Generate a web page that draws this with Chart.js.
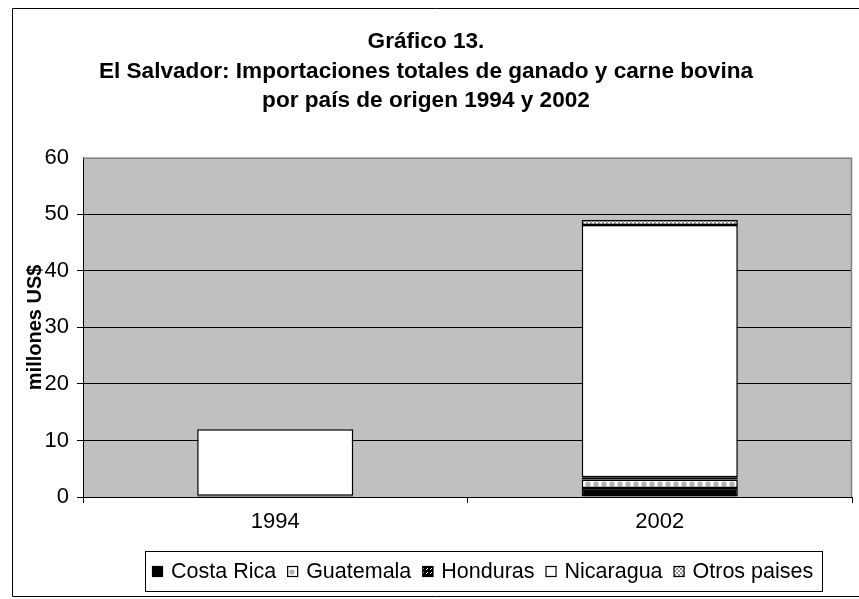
<!DOCTYPE html>
<html><head><meta charset="utf-8">
<script src="https://cdn.jsdelivr.net/npm/chart.js@4"></script>
<style>html,body{margin:0;padding:0;background:#fff}#w{width:859px;height:599px}</style>
</head><body><div id="w"><canvas id="c"></canvas></div>
<script>
const categories = ['1994', '2002'];
const costaRica = [0.2, 1.6];
const guatemala = [null, 1.5];
const honduras = [null, 0.4];
const nicaragua = [11.8, 44.6];
const otros = [null, 0.9];
const seriesNames = ['Costa Rica', 'Guatemala', 'Honduras', 'Nicaragua', 'Otros paises'];
const yTicks = [0, 10, 20, 30, 40, 50, 60];
const titleLines = ['Gráfico 13.', 'El Salvador: Importaciones totales de ganado y carne bovina', 'por país de origen 1994 y 2002'];
const yTitle = 'millones US$';

function mkPattern(kind) {
  const c = document.createElement('canvas');
  const s = kind === 'dots' ? 8 : 4;
  c.width = s; c.height = s;
  const g = c.getContext('2d');
  g.fillStyle = '#fff'; g.fillRect(0, 0, s, s);
  if (kind === 'dots') {
    g.fillStyle = '#b0b0b0';
    g.beginPath(); g.arc(4, 4, 2.6, 0, Math.PI * 2); g.fill();
  } else if (kind === 'checker') {
    g.fillStyle = '#909090';
    g.fillRect(0, 0, 2, 2); g.fillRect(2, 2, 2, 2);
  } else if (kind === 'diag') {
    g.fillStyle = '#000';
    g.fillRect(0, 0, 4, 4);
    g.fillStyle = '#fff';
    g.fillRect(3, 0, 1, 1); g.fillRect(2, 1, 1, 1);
  }
  return document.createElement('canvas').getContext('2d').createPattern(c, 'repeat');
}
const fills = ['#000000', mkPattern('dots'), mkPattern('diag'), '#ffffff', mkPattern('checker')];
const values = [costaRica, guatemala, honduras, nicaragua, otros];
const FONT = 'Liberation Sans, Arial, sans-serif';

const frame = {
  id: 'frame',
  beforeDraw(ch) {
    const g = ch.ctx; const a = ch.chartArea;
    g.save();
    g.fillStyle = '#c0c0c0'; g.fillRect(a.left, a.top, a.right - a.left, a.bottom - a.top);
    g.restore();
  },
  afterDraw(ch) {
    const g = ch.ctx; const a = ch.chartArea;
    g.save();
    g.strokeStyle = '#808080'; g.lineWidth = 1.5;
    g.beginPath(); g.moveTo(a.left, a.top + 0.5); g.lineTo(a.right - 0.5, a.top + 0.5); g.lineTo(a.right - 0.5, a.bottom); g.stroke();
    g.strokeStyle = '#000'; g.lineWidth = 1;
    g.beginPath();
    g.moveTo(870, 8.5); g.lineTo(12.5, 8.5); g.lineTo(12.5, 596.5); g.lineTo(870, 596.5);
    g.stroke();
    // legend
    g.font = '21.5px ' + FONT;
    const ds = ch.data.datasets;
    const widths = ds.map(d => g.measureText(d.label).width);
    const box = 11, gapIn = 8, gapOut = 11;
    const total = widths.reduce((s, w) => s + box + gapIn + w, 0) + gapOut * (ds.length - 1);
    let x = 152;
    const yc = 571;
    g.strokeStyle = '#000'; g.lineWidth = 1;
    g.strokeRect(145.5, 551.5, Math.round(total + 7 + 9), 40);
    g.textBaseline = 'middle'; g.textAlign = 'left';
    ds.forEach((d, i) => {
      g.fillStyle = d.backgroundColor;
      g.fillRect(x, yc - 5, box, box);
      g.strokeStyle = '#000'; g.lineWidth = 1.2;
      g.strokeRect(x + 0.5, yc - 4.5, box - 1, box - 1);
      g.fillStyle = '#000';
      g.fillText(d.label, x + box + gapIn, yc + 1);
      x += box + gapIn + widths[i] + gapOut;
    });
    g.restore();
  }
};

new Chart(document.getElementById('c'), {
  type: 'bar',
  data: {
    labels: categories,
    datasets: seriesNames.map((n, i) => ({
      label: n, data: values[i], backgroundColor: fills[i],
      borderColor: '#000', borderWidth: 1.5, borderSkipped: false,
      categoryPercentage: 1, barPercentage: 0.406
    }))
  },
  options: {
    responsive: true, maintainAspectRatio: false, animation: false,
    devicePixelRatio: 1,
    layout: { padding: { left: 0, right: 7, top: 0, bottom: 50 } },
    plugins: {
      title: { display: true, text: titleLines, color: '#000',
        font: { family: FONT, size: 22.6, weight: 'bold', lineHeight: 1.31 },
        padding: { top: 27, bottom: 42 } },
      legend: { display: false },
      tooltip: { enabled: false }
    },
    scales: {
      x: { stacked: true,
        afterFit(s) { s.height = 52; },
        grid: { display: true, drawOnChartArea: false, offset: true, color: '#000', tickLength: 6 },
        border: { color: '#000', width: 1 },
        ticks: { color: '#000', font: { family: FONT, size: 22 }, padding: 6 }
      },
      y: { stacked: true, min: 0, max: 60,
        afterBuildTicks(s) { s.ticks = yTicks.map(v => ({ value: v })); },
        afterFit(s) { s.width = 83; },
        grid: { color: (c) => c.tick && c.tick.value === 60 ? 'rgba(0,0,0,0)' : '#000', tickLength: 6, lineWidth: 1 },
        border: { color: '#000', width: 1 },
        title: { display: true, text: yTitle, color: '#000', font: { family: FONT, size: 20, weight: 'bold' }, padding: { top: 23, bottom: 0 } },
        ticks: { color: '#000', font: { family: FONT, size: 22 }, padding: 8 }
      }
    }
  },
  plugins: [frame]
});
</script></body></html>
